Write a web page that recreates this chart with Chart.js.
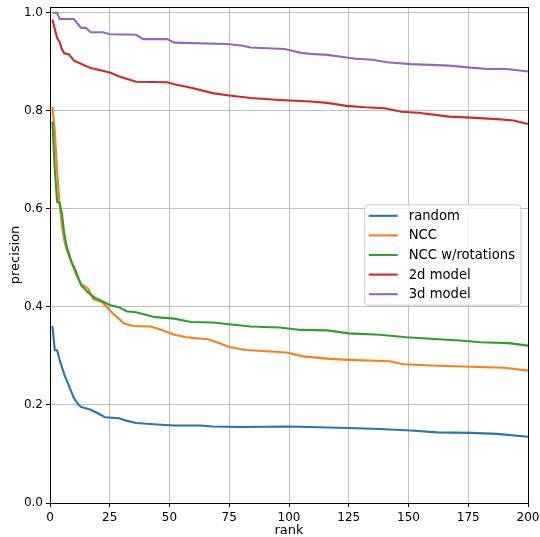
<!DOCTYPE html>
<html>
<head>
<meta charset="utf-8">
<script src="https://cdn.jsdelivr.net/npm/chart.js@4/dist/chart.umd.min.js"></script>
<style>
html,body{margin:0;padding:0;background:#fff;}
#wrap{width:540px;height:537px;}
</style>
</head>
<body>
<div id="wrap"><canvas id="c" width="540" height="537"></canvas></div>
<script>
// ---- data ----
const seriesNames = ["random", "NCC", "NCC w/rotations", "2d model", "3d model"];
const seriesColors = ["#1f77b4", "#ff7f0e", "#2ca02c", "#d62728", "#9467bd"];

const randomRank = [1,2,3,4,6,8,10,12,13,17,20,23,29,32,36,45,52,63,68,80,100,125,138,151,162,176,187,200];
const randomPrec = [0.361,0.312,0.311,0.292,0.262,0.238,0.214,0.200,0.196,0.190,0.183,0.175,0.173,0.168,0.163,0.160,0.158,0.158,0.156,0.155,0.156,0.153,0.151,0.148,0.144,0.143,0.141,0.135];

const nccRank = [1,2,3,4,5,6,7,9,11,13,16,18,22,26,31,35,42,45,52,57,66,71,75,82,99,106,117,125,142,148,162,176,190,200];
const nccPrec = [0.808,0.760,0.675,0.610,0.565,0.535,0.516,0.490,0.465,0.447,0.437,0.416,0.409,0.388,0.366,0.361,0.360,0.356,0.343,0.338,0.334,0.326,0.318,0.312,0.307,0.299,0.294,0.292,0.289,0.283,0.280,0.278,0.276,0.270];

const nccRotRank = [1,2,3,4,5,6,7,9,11,13,16,19,22,25,29,32,36,40,44,52,59,68,74,84,96,105,116,125,138,149,159,173,180,192,200];
const nccRotPrec = [0.778,0.680,0.614,0.612,0.590,0.548,0.523,0.492,0.471,0.444,0.429,0.418,0.411,0.404,0.399,0.391,0.389,0.384,0.379,0.376,0.369,0.368,0.365,0.360,0.358,0.353,0.352,0.346,0.343,0.338,0.335,0.331,0.328,0.326,0.321];

const model2dRank = [1,3,4,5,6,8,10,12,17,25,29,36,49,52,60,68,75,84,96,109,116,124,132,140,147,154,167,176,187,194,200];
const model2dPrec = [0.986,0.948,0.941,0.925,0.917,0.915,0.902,0.898,0.887,0.878,0.870,0.859,0.858,0.854,0.846,0.836,0.831,0.826,0.822,0.819,0.816,0.810,0.807,0.805,0.798,0.796,0.788,0.786,0.783,0.780,0.773];

const model3dRank = [1,3,4,10,13,15,17,22,25,36,39,49,52,74,80,84,98,100,105,109,116,128,135,141,151,167,176,183,191,200];
const model3dPrec = [1.000,1.000,0.987,0.987,0.969,0.969,0.960,0.960,0.956,0.955,0.946,0.946,0.939,0.936,0.933,0.929,0.926,0.924,0.918,0.916,0.914,0.906,0.904,0.899,0.895,0.892,0.888,0.885,0.885,0.880];

const xTicks = [0,25,50,75,100,125,150,175,200];
const yTicks = [0.0,0.2,0.4,0.6,0.8,1.0];
const xLabel = "rank";
const yLabel = "precision";

// ---- build ----
const ranks = [randomRank, nccRank, nccRotRank, model2dRank, model3dRank];
const precs = [randomPrec, nccPrec, nccRotPrec, model2dPrec, model3dPrec];
const FONT = "'DejaVu Sans', sans-serif";

const datasets = seriesNames.map((name, i) => ({
  label: name,
  data: ranks[i].map((r, j) => ({x: r, y: precs[i][j]})),
  borderColor: seriesColors[i],
  backgroundColor: seriesColors[i],
  borderWidth: 2.1,
  pointRadius: 0,
  tension: 0,
  fill: false,
  order: seriesNames.length - i
}));

const framePlugin = {
  id: 'frame',
  afterDatasetsDraw(chart) {
    const {ctx, chartArea: a} = chart;
    ctx.save();
    ctx.strokeStyle = '#000';
    ctx.lineWidth = 1;
    ctx.beginPath();
    ctx.moveTo(a.left, Math.round(a.top) + 0.5);
    ctx.lineTo(a.right, Math.round(a.top) + 0.5);
    ctx.moveTo(Math.round(a.right) + 0.5, a.top);
    ctx.lineTo(Math.round(a.right) + 0.5, a.bottom);
    ctx.stroke();
    ctx.restore();
  }
};

const legendPlugin = {
  id: 'boxLegend',
  afterDraw(chart) {
    const {ctx, chartArea: a} = chart;
    ctx.save();
    ctx.font = "13.2px " + FONT;
    let maxW = 0;
    seriesNames.forEach(n => { maxW = Math.max(maxW, ctx.measureText(n).width); });
    const padL = 4, handle = 29, gap = 11, padR = 6, rowH = 19.6, padV = 1.2;
    const w = padL + handle + gap + maxW + padR;
    const h = padV * 2 + rowH * seriesNames.length;
    const right = a.right - 7;
    const x0 = right - w;
    const cy = (a.top + a.bottom) / 2;
    const y0 = cy - h / 2;
    const r = 3;
    ctx.beginPath();
    ctx.moveTo(x0 + r, y0);
    ctx.lineTo(x0 + w - r, y0);
    ctx.quadraticCurveTo(x0 + w, y0, x0 + w, y0 + r);
    ctx.lineTo(x0 + w, y0 + h - r);
    ctx.quadraticCurveTo(x0 + w, y0 + h, x0 + w - r, y0 + h);
    ctx.lineTo(x0 + r, y0 + h);
    ctx.quadraticCurveTo(x0, y0 + h, x0, y0 + h - r);
    ctx.lineTo(x0, y0 + r);
    ctx.quadraticCurveTo(x0, y0, x0 + r, y0);
    ctx.closePath();
    ctx.fillStyle = 'rgba(255,255,255,0.8)';
    ctx.fill();
    ctx.strokeStyle = '#cccccc';
    ctx.lineWidth = 1;
    ctx.stroke();
    seriesNames.forEach((n, i) => {
      const yy = y0 + padV + rowH * (i + 0.5);
      ctx.strokeStyle = seriesColors[i];
      ctx.lineWidth = 2.1;
      ctx.beginPath();
      ctx.moveTo(x0 + padL, yy);
      ctx.lineTo(x0 + padL + handle, yy);
      ctx.stroke();
      ctx.fillStyle = '#000';
      ctx.textBaseline = 'middle';
      ctx.textAlign = 'left';
      ctx.fillText(n, x0 + padL + handle + gap, yy + 0.5);
    });
    ctx.restore();
  }
};

new Chart(document.getElementById('c'), {
  type: 'line',
  data: { datasets },
  plugins: [framePlugin, legendPlugin],
  options: {
    responsive: false,
    devicePixelRatio: 1,
    animation: false,
    layout: { padding: { left: 0, right: 12, top: 7, bottom: 0 } },
    plugins: { legend: { display: false }, tooltip: { enabled: false } },
    scales: {
      x: {
        type: 'linear',
        min: 0, max: 200,
        afterFit(s) { s.height = 34; s.paddingLeft = 0; s.paddingRight = 0; },
        afterBuildTicks(s) { s.ticks = xTicks.map(v => ({value: v})); },
        ticks: { color: '#000', font: { family: FONT, size: 12, lineHeight: 1 }, padding: 5, maxRotation: 0,
                 callback: v => String(v) },
        grid: { color: '#b0b0b0', lineWidth: 0.8, tickLength: 4, tickColor: '#000', tickWidth: 1 },
        border: { display: true, color: '#000', width: 1 },
        title: { display: true, text: xLabel, color: '#000', font: { family: FONT, size: 13 }, padding: { top: 0, bottom: -1 } }
      },
      y: {
        type: 'linear',
        min: 0, max: 1.0116,
        afterFit(s) { s.width = 50; s.paddingTop = 0; s.paddingBottom = 0; },
        afterBuildTicks(s) { s.ticks = yTicks.map(v => ({value: v})); },
        ticks: { color: '#000', font: { family: FONT, size: 12, lineHeight: 1 }, padding: 3,
                 callback: v => Number(v).toFixed(1) },
        grid: { color: '#b0b0b0', lineWidth: 0.8, tickLength: 4, tickColor: '#000', tickWidth: 1 },
        border: { display: true, color: '#000', width: 1 },
        title: { display: true, text: yLabel, color: '#000', font: { family: FONT, size: 13 }, padding: { top: 8, bottom: 0 } }
      }
    }
  }
});
</script>
</body>
</html>
